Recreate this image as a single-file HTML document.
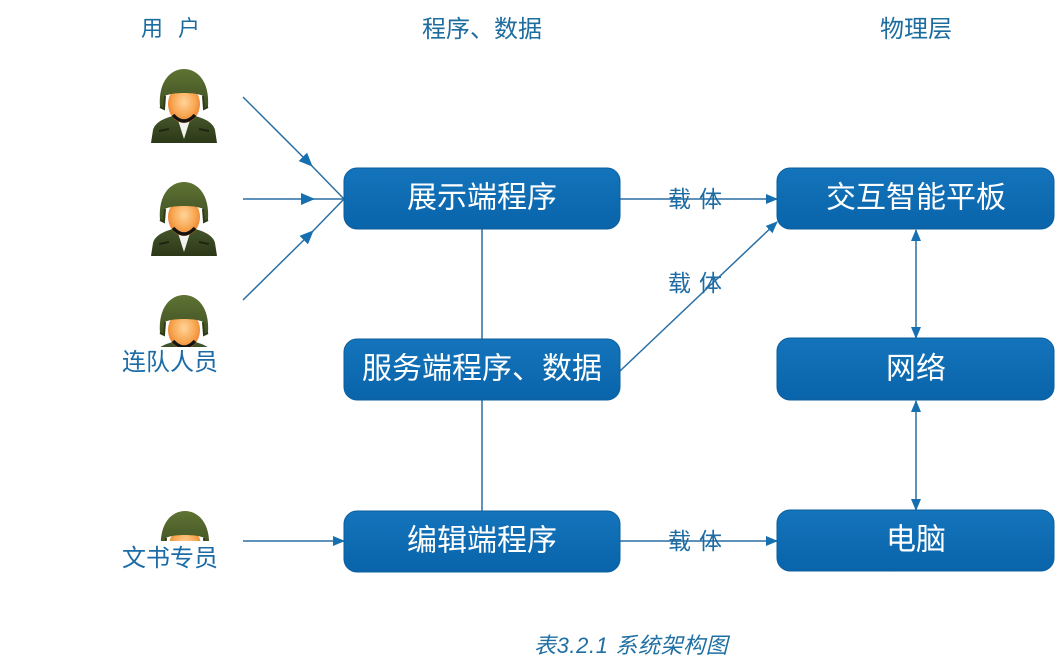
<!DOCTYPE html>
<html><head><meta charset="utf-8">
<style>
html,body{margin:0;padding:0;background:#fff;}
svg{display:block;}
text{font-family:"Liberation Sans","Noto Sans CJK SC",sans-serif;}
</style></head>
<body>
<svg width="1064" height="669" viewBox="0 0 1064 669" xmlns="http://www.w3.org/2000/svg">
<defs>
  <linearGradient id="bx" x1="0" y1="0" x2="0" y2="1">
    <stop offset="0" stop-color="#1474bb"/>
    <stop offset="1" stop-color="#0964aa"/>
  </linearGradient>
  <linearGradient id="helm" x1="0" y1="0" x2="0" y2="1">
    <stop offset="0" stop-color="#5f7334"/>
    <stop offset="1" stop-color="#3f4f22"/>
  </linearGradient>
  <linearGradient id="bod" x1="0" y1="0" x2="0" y2="1">
    <stop offset="0" stop-color="#44552a"/>
    <stop offset="1" stop-color="#2c3818"/>
  </linearGradient>
  <radialGradient id="face" cx="0.5" cy="0.45" r="0.6">
    <stop offset="0" stop-color="#ffd49a"/>
    <stop offset="0.6" stop-color="#f8a650"/>
    <stop offset="1" stop-color="#e87a28"/>
  </radialGradient>
  <g id="sold">
    <path d="M0,76 L2,63 C4,55 14,51 22,49 L44,49 C52,51 62,55 64,63 L66,76 Z" fill="url(#bod)"/>
    <path d="M8,64 L18,62 M48,62 L58,64" stroke="#1e2610" stroke-width="2"/>
    <path d="M27,53 L39,53 L33,72 Z" fill="#f2f2ee"/>
    <ellipse cx="33" cy="37" rx="16" ry="19" fill="url(#face)"/>
    <path d="M22,48 Q33,60 44,48" stroke="#141414" stroke-width="3.5" fill="none"/>
    <path d="M9,40 C7,14 20,2 33,2 C46,2 59,14 57,40 L53,42 L52,29 C46,25 20,25 14,29 L13,42 Z" fill="url(#helm)"/>
    <path d="M9,40 L13,42 L14,29 M57,40 L53,42 L52,29" stroke="#2f3b18" stroke-width="2" fill="none"/>
  </g>
  <marker id="ah" markerWidth="12" markerHeight="12" refX="11" refY="6" orient="auto" markerUnits="userSpaceOnUse">
    <path d="M0,1 L12,6 L0,11 Z" fill="#1670b0"/>
  </marker>
  <marker id="ahs" markerWidth="12" markerHeight="12" refX="1" refY="6" orient="auto" markerUnits="userSpaceOnUse">
    <path d="M12,1 L0,6 L12,11 Z" fill="#1670b0"/>
  </marker>
  <marker id="ahb" markerWidth="14" markerHeight="14" refX="13" refY="7" orient="auto" markerUnits="userSpaceOnUse">
    <path d="M0,1 L14,7 L0,13 Z" fill="#1670b0"/>
  </marker>
</defs>

<!-- headers -->
<g fill="#1d6c9f" font-size="22">
  <text x="141" y="36">用</text>
  <text x="178" y="36">户</text>
  <text x="422" y="37" font-size="24">程序、数据</text>
  <text x="880" y="37" font-size="24">物理层</text>
</g>

<!-- soldiers -->
<use href="#sold" transform="translate(151,67)"/>
<use href="#sold" transform="translate(151,180)"/>
<use href="#sold" transform="translate(151,293)"/>
<rect x="140" y="347" width="90" height="40" fill="#fff"/>
<use href="#sold" transform="translate(152,509)"/>
<rect x="140" y="541" width="90" height="60" fill="#fff"/>

<g fill="#1a6ba6" font-size="24">
  <text x="122" y="370">连队人员</text>
  <text x="122" y="566">文书专员</text>
</g>

<!-- connectors -->
<g stroke="#2a6fa4" stroke-width="1.5" fill="none">
  <line x1="243" y1="97" x2="312" y2="166" marker-end="url(#ahb)"/>
  <line x1="311" y1="165" x2="344" y2="199"/>
  <line x1="243" y1="199" x2="314" y2="199" marker-end="url(#ahb)"/>
  <line x1="313" y1="199" x2="344" y2="199"/>
  <line x1="243" y1="300" x2="313" y2="231" marker-end="url(#ahb)"/>
  <line x1="312" y1="232" x2="344" y2="199"/>
  <line x1="243" y1="541" x2="344" y2="541" marker-end="url(#ah)"/>

  <line x1="482" y1="229" x2="482" y2="339"/>
  <line x1="482" y1="400" x2="482" y2="511"/>

  <line x1="620" y1="199" x2="777" y2="199" marker-end="url(#ah)"/>
  <line x1="620" y1="371" x2="777" y2="222" marker-end="url(#ah)"/>
  <line x1="620" y1="541" x2="777" y2="541" marker-end="url(#ah)"/>

  <line x1="916" y1="230" x2="916" y2="338" marker-start="url(#ahs)" marker-end="url(#ah)"/>
  <line x1="916" y1="401" x2="916" y2="510" marker-start="url(#ahs)" marker-end="url(#ah)"/>
</g>

<!-- carrier labels -->
<g fill="#1d6ba2" font-size="23">
  <text x="668" y="207">载</text><text x="699" y="207">体</text>
  <text x="668" y="291">载</text><text x="699" y="291">体</text>
  <text x="668" y="549">载</text><text x="699" y="549">体</text>
</g>

<!-- boxes -->
<g fill="url(#bx)" stroke="#0a5e9e" stroke-width="1">
  <rect x="344" y="168" width="276" height="61" rx="13"/>
  <rect x="344" y="339" width="276" height="61" rx="13"/>
  <rect x="344" y="511" width="276" height="61" rx="13"/>
  <rect x="777" y="168" width="277" height="61" rx="13"/>
  <rect x="777" y="338" width="277" height="62" rx="13"/>
  <rect x="777" y="510" width="277" height="61" rx="13"/>
</g>
<g fill="#ffffff" font-size="30" text-anchor="middle" dominant-baseline="central">
  <text x="482" y="198">展示端程序</text>
  <text x="482" y="369">服务端程序、数据</text>
  <text x="482" y="541">编辑端程序</text>
  <text x="916" y="198">交互智能平板</text>
  <text x="916" y="369">网络</text>
  <text x="916" y="540">电脑</text>
</g>

<!-- caption -->
<text x="534" y="653" fill="#1f6fa3" font-size="22" font-style="italic" letter-spacing="0.6">表3.2.1 系统架构图</text>
</svg>
</body></html>
